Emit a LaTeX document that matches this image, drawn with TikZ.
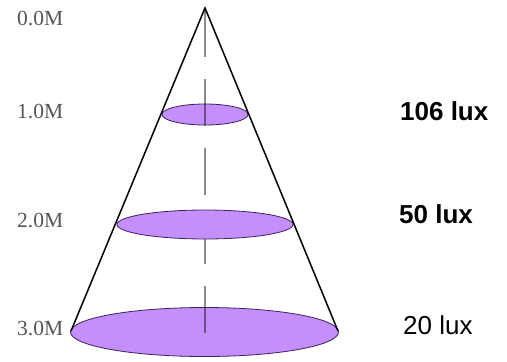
\documentclass[tikz,border=0pt]{standalone}
\usepackage{fontspec}
\setmainfont{Liberation Serif}
\newfontfamily\arialfont{Liberation Sans}
\usetikzlibrary{shapes.geometric}
\definecolor{discfill}{RGB}{196,142,252}
\definecolor{discline}{RGB}{60,35,90}
\definecolor{labgray}{RGB}{85,85,85}
\begin{document}
\begin{tikzpicture}[x=1pt,y=-1pt,
  disc/.style={draw=discline,line width=0.8pt,fill=discfill,ellipse,inner sep=0pt},
  coneline/.style={draw=black,line width=1.5pt},
  axisline/.style={draw=black,draw opacity=0.45,line width=1.2pt,dash pattern=on 47pt off 22pt},
  mlabel/.style={font=\fontsize{21.5}{25}\selectfont,text=labgray,inner sep=0pt,anchor=west},
  luxlabel/.style={font=\arialfont\fontsize{26}{30}\selectfont,inner sep=0pt,anchor=west},
  luxbold/.style={luxlabel,font=\arialfont\bfseries\fontsize{26}{30}\selectfont}]
\useasboundingbox (0,0) rectangle (507,362);
\coordinate (apex) at (205,8);
\coordinate (axtop) at (205,10);
\coordinate (axend) at (205,333);
\coordinate (bl) at (71,331);
\coordinate (br) at (338,331);
% discs
\node[disc,minimum width=86pt,minimum height=21pt] (d1) at (205,114.5) {};
\node[disc,minimum width=268pt,minimum height=49pt] (d3) at (204.5,332) {};
% cone
\draw[coneline] (bl) -- (apex) -- (br);
% axis
\draw[axisline] (axtop) -- (axend);
% middle disc over the axis
\node[disc,minimum width=176pt,minimum height=29pt] (d2) at (205,224.5) {};
% labels
\node[mlabel] (l0) at (17,18.5) {0.0M};
\node[mlabel] (l1) at (17,111.5) {1.0M};
\node[mlabel] (l2) at (17,220) {2.0M};
\node[mlabel] (l3) at (17,328.5) {3.0M};
\node[luxbold] (x1) at (400,111.5) {106 lux};
\node[luxbold] (x2) at (399,214) {50 lux};
\node[luxlabel] (x3) at (403,325) {20 lux};
\end{tikzpicture}
\end{document}
